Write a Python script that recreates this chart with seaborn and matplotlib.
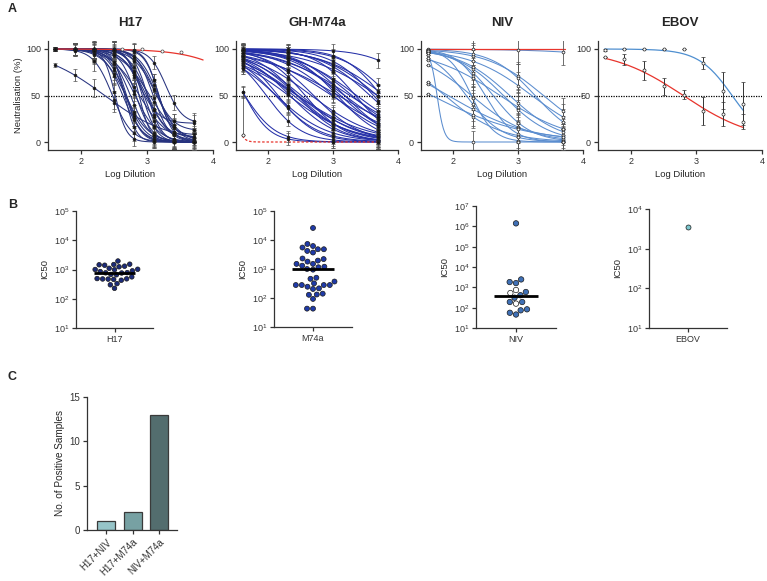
import numpy as np
import pandas as pd
import matplotlib
matplotlib.use("Agg")
import matplotlib.pyplot as plt
import seaborn as sns

# ------------------------------------------------------------------ data
# dilution series (log10 of reciprocal dilution)
dil_h17 = [1.602, 1.903, 2.204, 2.505, 2.806, 3.107, 3.408, 3.709]
dil_m74 = [1.602, 2.301, 3.000, 3.699]
dil_niv = [1.602, 2.301, 3.000, 3.699]
dil_ebov = [1.602, 1.903, 2.204, 2.505, 2.806, 3.107, 3.408, 3.709]

# H17: IC50 of each sample (panel B) and fit shape of its curve (panel A)
h17_ic50 = [1950, 1520, 1480, 1450, 1400, 1300, 1240, 1100, 1020, 1000, 980, 900,
            850, 780, 770, 760, 680, 660, 560, 490, 480, 475, 470, 460, 430, 330,
            300, 228]
h17_hill = [3.5, 4.0, 3.0, 4.5, 2.5, 3.0, 3.5, 2.0, 4.0, 3.0, 2.5, 3.5, 4.0, 3.0,
            2.0, 5.0, 3.5, 2.5, 3.0, 4.0, 3.0, 2.5, 3.5, 5.0, 3.0, 5.0, 3.0, 0.9]
h17_bottom = [20, 0, 0, 8, 0, 12, 0, 0, 0, 5, 0, 0, 0, 20, 0, 0, 0, 0, 0, 0, 0, 0,
              0, 0, 0, 0, 0, 0]
h17_err = [2, 6, 10, 10, 8, 7, 8, 9]
h17_neg_x = [2.62, 2.92, 3.22, 3.52]
h17_neg_y = [100, 100, 98, 97]
h17_neg_ic50 = 4.8e4
h17_neg_hill = 1.05

# GH-M74a
m74_ic50 = [26000, 7300, 6200, 5500, 4800, 4800, 4200, 3700, 2300, 2200, 1950, 1800,
            1500, 1500, 1300, 1200, 1150, 1000, 950, 500, 460, 370, 320, 280, 280,
            280, 280, 245, 215, 205, 141, 132, 129, 93, 43, 43]
m74_hill = [1.2, 1.2, 0.9, 1.5, 1.0, 0.8, 1.3, 1.1, 0.9, 1.4, 1.0, 0.8, 1.2, 0.9,
            1.1, 0.7, 1.3, 1.0, 0.8, 1.2, 0.9, 1.4, 1.0, 1.1, 0.8, 1.3, 0.9, 1.0,
            1.2, 0.9, 1.5, 1.1, 1.3, 1.6, 1.8, 2.2]
m74_err = [6, 6, 7, 8]
m74_neg_ic50 = 29.5
m74_neg_hill = 8.8

# NIV (filled = positive, open = borderline)
niv_ic50_filled = [1.4e6, 2450, 1820, 1620, 590, 410, 310, 190, 190, 83, 74, 56, 46]
niv_ic50_open = [740, 525, 158]
niv_hill_filled = [0.6, 1.0, 1.3, 0.9, 1.2, 1.5, 2.0, 1.0, 2.5, 0.7, 1.0, 8.0, 0.6]
niv_hill_open = [1.1, 0.8, 1.6]
niv_err = [0, 12, 15, 14]

# EBOV
ebov_ic50 = [3500]
ebov_hill = [1.7]
ebov_pos_y = [99, 100, 100, 100, 100, 85, 55, 41]
ebov_pos_e = [1, 0, 0, 0, 0, 6, 20, 23]
ebov_ctrl_ic50 = 630
ebov_ctrl_hill = 0.8
ebov_ctrl_y = [91, 89, 77, 60, 51, 33, 30, 22]
ebov_ctrl_e = [0, 6, 10, 9, 5, 15, 13, 8]

# panel C
combos = ["H17+NIV", "H17+M74a", "NIV+M74a"]
n_positive = [1, 2, 13]

# ------------------------------------------------------------------ style
sns.set_theme(style="ticks")
plt.rcParams["font.family"] = ["Liberation Sans", "DejaVu Sans"]
plt.rcParams["axes.linewidth"] = 0.9
plt.rcParams["axes.edgecolor"] = "#333333"
plt.rcParams["xtick.color"] = "#333333"
plt.rcParams["ytick.color"] = "#333333"
plt.rcParams["xtick.major.size"] = 3
plt.rcParams["ytick.major.size"] = 3
plt.rcParams["xtick.major.width"] = 0.9
plt.rcParams["ytick.major.width"] = 0.9

C_H17 = "#27337f"
C_M74 = "#2530a8"
C_NIV = "#5b8dcf"
C_RED = "#e8342c"

W, H = 767, 581
fig = plt.figure(figsize=(W / 100, H / 100), dpi=100)


def ax_px(l, t, r, b):
    return fig.add_axes([l / W, 1 - b / H, (r - l) / W, (b - t) / H])


def logistic(x, logic50, hill, top=100.0, bottom=0.0):
    return bottom + (top - bottom) / (1 + 10 ** ((x - logic50) * hill))


xs = np.linspace(1.6, 3.72, 200)


def curves_df(ic50s, hills, bottoms=None):
    rows = []
    for i, (c, h) in enumerate(zip(ic50s, hills)):
        b = 0 if bottoms is None else bottoms[i]
        for x in xs:
            rows.append((i, x, logistic(x, np.log10(c), h, bottom=b)))
    return pd.DataFrame(rows, columns=["id", "x", "y"])


def style_a(ax, title, ylabel=False):
    ax.set_xlim(1.5, 4)
    ax.set_ylim(-8.6, 108.6)
    ax.set_xticks([2, 3, 4])
    ax.set_yticks([0, 50, 100])
    ax.tick_params(labelsize=6.5, pad=2)
    ax.set_xlabel("Log Dilution", fontsize=6.8, labelpad=3)
    ax.set_ylabel("Neutralisation (%)" if ylabel else "", fontsize=6.8, labelpad=2)
    ax.set_title(title, fontsize=9.5, fontweight="bold", pad=11)
    sns.despine(ax=ax)
    ax.axhline(50, color="black", ls=(0, (1, 1)), lw=0.9, zorder=1)


def points(ax, dil, ic50s, hills, errs, bottoms=None, filled=True):
    for i, (c, h) in enumerate(zip(ic50s, hills)):
        b = 0 if bottoms is None else bottoms[i]
        ys = [logistic(x, np.log10(c), h, bottom=b) for x in dil]
        ax.errorbar(dil, ys, yerr=errs, fmt="o", ms=2.0,
                    mfc="#111111" if filled else "white", mec="#222222",
                    mew=0.5, ecolor="#555555", elinewidth=0.6, capsize=1.2,
                    capthick=0.6, zorder=3)


# ------------------------------------------------------------------ panel A
axA1 = ax_px(48, 41, 213, 150)
sns.lineplot(data=curves_df(h17_ic50, h17_hill, h17_bottom), x="x", y="y",
             units="id", estimator=None, color=C_H17, lw=0.75, ax=axA1, zorder=2)
points(axA1, dil_h17, h17_ic50, h17_hill, h17_err, h17_bottom)
neg_x = np.linspace(1.6, 3.85, 100)
axA1.plot(neg_x, logistic(neg_x, np.log10(h17_neg_ic50), h17_neg_hill),
          color=C_RED, lw=0.9, zorder=2)
axA1.plot(h17_neg_x, h17_neg_y, "o", ms=2.2, mfc="white", mec="#444444", mew=0.5,
          zorder=3)
style_a(axA1, "H17", ylabel=True)

axA2 = ax_px(236, 41, 398, 150)
sns.lineplot(data=curves_df(m74_ic50, m74_hill), x="x", y="y", units="id",
             estimator=None, color=C_M74, lw=0.75, ax=axA2, zorder=2)
points(axA2, dil_m74, m74_ic50, m74_hill, m74_err)
axA2.plot(xs, logistic(xs, np.log10(m74_neg_ic50), m74_neg_hill), color=C_RED,
          lw=0.9, ls=(0, (2, 1.5)), zorder=2)
axA2.errorbar([1.602], [7], yerr=[[0], [43]], fmt="o", ms=2.2, mfc="white",
              mec="#222222", mew=0.5, ecolor="#555555", elinewidth=0.6,
              capsize=1.2, zorder=3)
style_a(axA2, "GH-M74a")

axA3 = ax_px(421, 41, 583, 150)
niv_all_ic50 = niv_ic50_filled + niv_ic50_open
niv_all_hill = niv_hill_filled + niv_hill_open
sns.lineplot(data=curves_df(niv_all_ic50, niv_all_hill), x="x", y="y", units="id",
             estimator=None, color=C_NIV, lw=0.75, ax=axA3, zorder=2)
axA3.plot([1.6, 3.72], [100, 100], color=C_RED, lw=0.9, zorder=2)
points(axA3, dil_niv, niv_all_ic50, niv_all_hill, niv_err, filled=False)
style_a(axA3, "NIV")

axA4 = ax_px(598, 41, 762, 150)
sns.lineplot(data=curves_df(ebov_ic50, ebov_hill), x="x", y="y", units="id",
             estimator=None, color="#4f8fd0", lw=0.9, ax=axA4, zorder=2)
axA4.plot(xs, logistic(xs, np.log10(ebov_ctrl_ic50), ebov_ctrl_hill),
          color=C_RED, lw=0.9, zorder=2)
for yv, ev in ((ebov_pos_y, ebov_pos_e), (ebov_ctrl_y, ebov_ctrl_e)):
    axA4.errorbar(dil_ebov, yv, yerr=ev, fmt="o", ms=2.2, mfc="white",
                  mec="#222222", mew=0.5, ecolor="#333333", elinewidth=0.7,
                  capsize=1.5, capthick=0.7, zorder=3)
style_a(axA4, "EBOV")


# ------------------------------------------------------------------ panel B
def finish_b(ax, ylim, label):
    ax.set_yscale("log")
    ax.set_ylim(*ylim)
    ax.set_xlim(-0.5, 0.5)
    ax.yaxis.set_major_locator(matplotlib.ticker.LogLocator(base=10, numticks=20))
    ax.yaxis.set_minor_locator(matplotlib.ticker.NullLocator())
    ax.set_xlabel("")
    ax.set_ylabel("IC50", fontsize=6.8, labelpad=3)
    ax.set_xticks([0])
    ax.set_xticklabels([label])
    ax.tick_params(labelsize=6.5, pad=2)
    sns.despine(ax=ax)


def panel_b(box, df, palette, ylim, label, hue=None, size=3.4):
    ax = ax_px(*box)
    sns.swarmplot(data=df, x="grp", y="ic50", hue=hue if hue else "grp",
                  palette=palette, size=size, edgecolor="#1a1a1a", linewidth=0.5,
                  log_scale=True, legend=False, ax=ax, zorder=3)
    med = np.median(df["ic50"])
    ax.hlines(med, -0.27, 0.27, color="black", lw=2.0, zorder=4)
    finish_b(ax, ylim, label)
    return ax


df_h17 = pd.DataFrame({"grp": "H17", "ic50": h17_ic50})
panel_b((76, 211, 153, 328), df_h17, {"H17": "#1c2b7a"}, (10, 1e5), "H17",
        size=3.3)

df_m74 = pd.DataFrame({"grp": "M74a", "ic50": m74_ic50})
panel_b((274, 211, 352, 327), df_m74, {"M74a": "#1f3aa8"}, (10, 1e5), "M74a",
        size=3.6)

df_niv = pd.DataFrame({"grp": "NIV",
                       "ic50": niv_ic50_filled + niv_ic50_open,
                       "kind": ["filled"] * len(niv_ic50_filled)
                       + ["open"] * len(niv_ic50_open)})
panel_b((476, 206, 556, 328), df_niv, {"filled": "#3f70b6", "open": "white"},
        (10, 1e7), "NIV", hue="kind", size=3.9)

df_ebov = pd.DataFrame({"grp": "EBOV", "ic50": ebov_ic50})
axB4 = ax_px(649, 209, 727, 328)
sns.stripplot(data=df_ebov, x="grp", y="ic50", hue="grp",
              palette={"EBOV": "#7cc6cd"}, size=3.6, edgecolor="#1a1a1a",
              linewidth=0.5, jitter=False, log_scale=True, legend=False,
              ax=axB4, zorder=3)
finish_b(axB4, (10, 1e4), "EBOV")

# ------------------------------------------------------------------ panel C
axC = ax_px(87, 397, 177, 530)
df_c = pd.DataFrame({"combo": combos, "n": n_positive})
sns.barplot(data=df_c, x="combo", y="n", hue="combo",
            palette=["#8ecbd0", "#6fa7ab", "#4e7173"], width=0.68,
            edgecolor="#3a3a3a", linewidth=0.9, legend=False, ax=axC)
axC.set_xlim(-0.72, 2.68)
axC.set_ylim(0, 15)
axC.set_yticks([0, 5, 10, 15])
axC.set_xlabel("")
axC.set_ylabel("No. of Positive Samples", fontsize=7.2, labelpad=3)
axC.tick_params(labelsize=7, pad=2)
for lab in axC.get_xticklabels():
    lab.set_rotation(45)
    lab.set_ha("right")
    lab.set_rotation_mode("anchor")
sns.despine(ax=axC)

# ------------------------------------------------------------------ letters
for letter, y in (("A", 9), ("B", 205), ("C", 377)):
    fig.text(8 / W, 1 - y / H, letter, fontsize=9, fontweight="bold",
             va="center", ha="left")

fig.savefig("out.png", dpi=100)
